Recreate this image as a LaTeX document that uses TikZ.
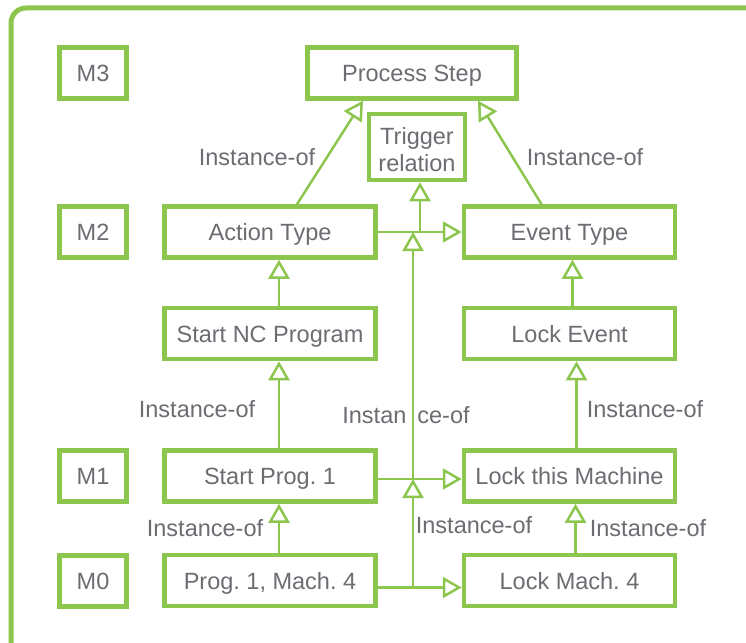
\documentclass[tikz,border=0pt]{standalone}
\usepackage{fontspec}
\setmainfont{Liberation Sans}
\usetikzlibrary{arrows.meta, positioning}
\definecolor{lgreen}{RGB}{140,198,78}
\definecolor{tgray}{RGB}{108,108,114}
\frenchspacing

\begin{document}
\begin{tikzpicture}[x=1pt, y=-1pt, node distance=84pt,
    boxbase/.style={rectangle, draw=lgreen, line width=4.5pt, fill=white, text=tgray, minimum width=211pt, minimum height=51pt, inner sep=2pt, align=center, font=\fontsize{23.5}{27}\selectfont},
    box/.style={boxbase, text height=17pt, text depth=0pt},
    level/.style={box, minimum width=67pt},
    inst/.style={draw=lgreen, line width=2.5pt, -{Triangle[open, length=19pt, width=21pt]}},
    lbl/.style={text=tgray, inner sep=0pt, font=\fontsize{23.5}{28}\selectfont}]
    \useasboundingbox (0,0) rectangle (746,642);
    \clip (0,0) rectangle (746,642);
    \draw[lgreen, line width=5pt, rounded corners=15pt] (11,8) rectangle (770,660);

    % Define nodes
    \node[level] (mthree) at (93,73) {M3};
    \node[level] (mtwo) at (93,232) {M2};
    \node[level] (mone) at (93,476) {M1};
    \node[level] (mzero) at (93,581) {M0};

    \node[box, minimum width=209pt] (pstep) at (412,73) {Process Step};
    \node[boxbase, minimum width=96pt, minimum height=66pt] (trig) at (417,147) {\rule{0pt}{23pt}Trigger\\relation};
    \node[box] (atype) at (270,232) {Action Type};
    \node[box, right=of atype] (etype) {Event Type};
    \node[box, below=46pt of atype] (snc) {Start NC Program};
    \node[box, right=of snc] (levt) {Lock Event};
    \node[box] (sprog) at (270,476) {Start Prog. 1};
    \node[box, right=of sprog] (lmach) {Lock this Machine};
    \node[box, below=49pt of sprog] (pmach) {Prog. 1, Mach. 4};
    \node[box, right=of pmach] (lmfour) {Lock Mach. 4};

    \coordinate (tj) at (420,232);
    \coordinate (mtwoj) at (413,232);
    \coordinate (monej) at (413,479);
    \coordinate (mzeroj) at (413,588);

    % Connect nodes
    \draw[inst] ([xshift=27pt]atype.north) -- ([xshift=-49pt]pstep.south);
    \draw[inst] ([xshift=-28pt]etype.north) -- ([xshift=66pt]pstep.south);
    \draw[inst] (atype) -- (etype);
    \draw[inst] (tj) -- (tj |- trig.south);
    \draw[inst] ([xshift=9pt]snc.north) -- ([xshift=9pt]atype.south);
    \draw[inst] ([xshift=9pt]sprog.north) -- ([xshift=9pt]snc.south);
    \draw[inst] ([xshift=9pt]pmach.north) -- ([xshift=9pt]sprog.south);
    \draw[inst] ([xshift=3pt]levt.north) -- ([xshift=3pt]etype.south);
    \draw[inst] ([xshift=7pt]lmach.north) -- ([xshift=7pt]levt.south);
    \draw[inst] ([xshift=6pt]lmfour.north) -- ([xshift=6pt]lmach.south);
    \draw[inst] ([yshift=-3pt]sprog.east) -- ([yshift=-3pt]lmach.west);
    \draw[inst] ([yshift=-7pt]pmach.east) -- ([yshift=-7pt]lmfour.west);
    \draw[inst] (mzeroj) -- (monej);
    \draw[inst] (monej) -- (mtwoj);

    % Labels
    \node[lbl] (ilpstepa) at (257,157) {Instance-of};
    \node[lbl] (ilpstepb) at (585,157) {Instance-of};
    \node[lbl] (ilsnc) at (197,409) {Instance-of};
    \node[lbl] (illevt) at (645,409) {Instance-of};
    \node[lbl] (iltrig) at (406,415) {Instan\hspace{11pt}ce-of};
    \node[lbl] (ilsprog) at (205,528) {Instance-of};
    \node[lbl] (illmach) at (474,525) {Instance-of};
    \node[lbl] (illmfour) at (648,528) {Instance-of};
\end{tikzpicture}
\end{document}
